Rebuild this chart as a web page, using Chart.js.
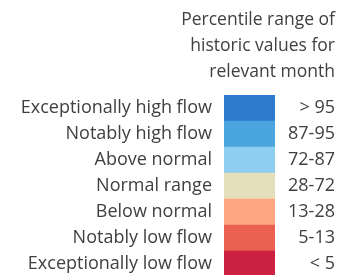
<!DOCTYPE html>
<html>
<head>
<meta charset="utf-8">
<script src="https://cdn.jsdelivr.net/npm/chart.js@4"></script>
<style>
  html, body { margin: 0; padding: 0; background: #ffffff; overflow: hidden; }
  #wrap { position: relative; width: 341px; height: 277px; }
</style>
</head>
<body>
<div id="wrap"><canvas id="leyendaCaudal"></canvas></div>
<script>
// categorias de la leyenda (de arriba a abajo)
var categorias = [
    'Exceptionally high flow',
    'Notably high flow',
    'Above normal',
    'Normal range',
    'Below normal',
    'Notably low flow',
    'Exceptionally low flow'
];
var rangos = ['> 95', '87-95', '72-87', '28-72', '13-28', '5-13', '< 5'];
var valores = [1, 1, 1, 1, 1, 1, 1];
var colores = ['#2d7acf', '#4ba5df', '#8ecef0', '#e5e0bb', '#fea67f', '#ea614f', '#cc2141'];
var titulo = ['Percentile range of', 'historic values for', 'relevant month'];

document.addEventListener("DOMContentLoaded", function() {
    var ctx = document.getElementById("leyendaCaudal").getContext("2d");
    var fuente = { family: 'Open Sans', size: 18 };
    var gris = '#404040';
    new Chart(ctx, {
        type: "bar",
        data: {
            labels: categorias,
            datasets: [{
                label: 'Rango',
                data: valores,
                backgroundColor: colores,
                borderWidth: 0,
                barPercentage: 1,
                categoryPercentage: 1
            }]
        },
        options: {
            indexAxis: 'y',
            responsive: true,
            maintainAspectRatio: false,
            animation: false,
            layout: { padding: { left: 0, right: 6, top: 0, bottom: 0 } },
            plugins: {
                legend: { display: false },
                tooltip: { enabled: false },
                title: {
                    display: true,
                    text: titulo,
                    align: 'end',
                    color: gris,
                    font: { family: 'Open Sans', size: 17.5, weight: 'normal', lineHeight: 26 / 17.5 },
                    padding: { top: 7, bottom: 10 }
                }
            },
            scales: {
                x: { display: false, min: 0, max: 1 },
                y: {
                    position: 'left',
                    offset: true,
                    grid: { display: false, drawTicks: false },
                    border: { display: false },
                    ticks: { color: gris, font: fuente, padding: 12, autoSkip: false },
                    afterFit: function(scale) {
                        scale.width = 224;
                        scale.paddingTop = 0;
                        scale.paddingBottom = 0;
                    }
                },
                y2: {
                    type: 'category',
                    axis: 'y',
                    labels: rangos,
                    position: 'right',
                    offset: true,
                    grid: { display: false, drawTicks: false },
                    border: { display: false },
                    ticks: { color: gris, font: fuente, padding: 0, crossAlign: 'far', autoSkip: false },
                    afterFit: function(scale) {
                        scale.width = 60;
                        scale.paddingTop = 0;
                        scale.paddingBottom = 0;
                    }
                }
            }
        }
    });
});
</script>
</body>
</html>
